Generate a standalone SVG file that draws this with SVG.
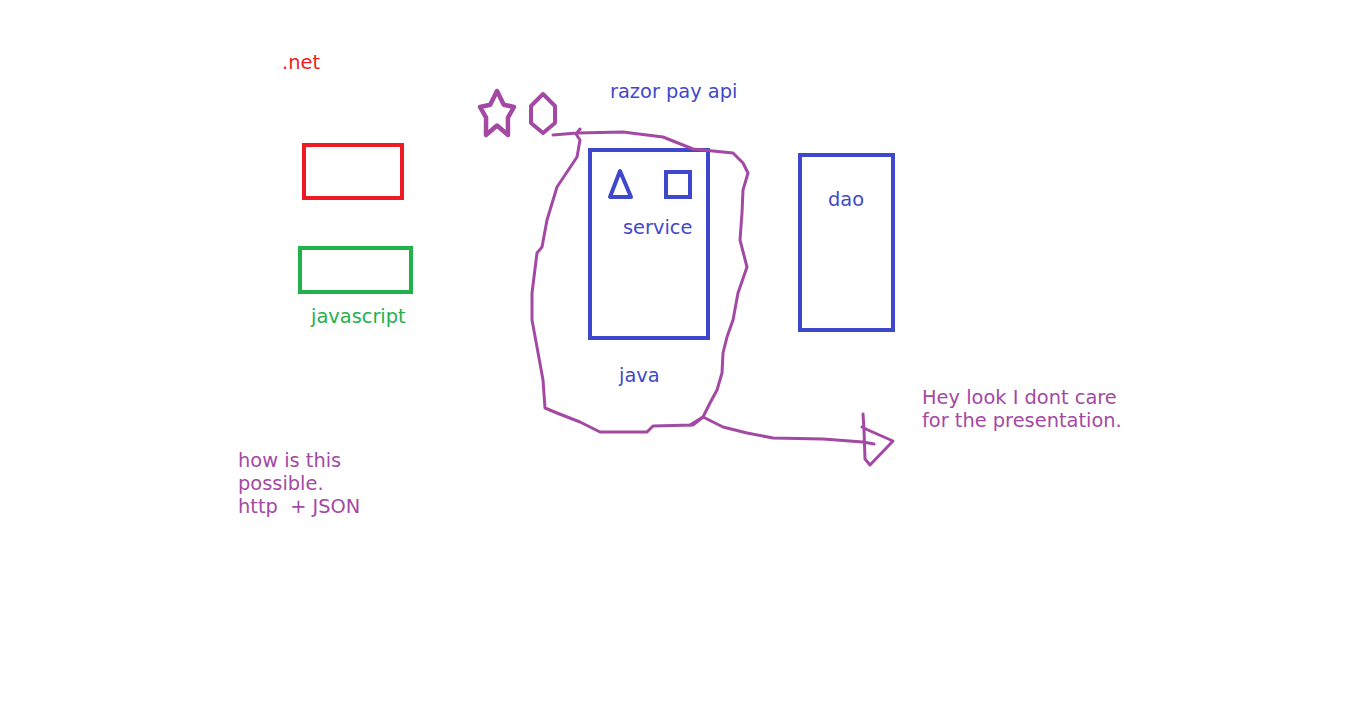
<svg xmlns="http://www.w3.org/2000/svg" width="1360" height="715" viewBox="0 0 1360 715">
<style>
text{font-family:"DejaVu Sans","Verdana",sans-serif;font-size:19.4px}
.pu{fill:#a349a4}.bl{fill:#3f48cc}.rd{fill:#ed1c24}.gr{fill:#22b14c}
.box{fill:none;stroke-width:4}
.ink{fill:none;stroke:#a349a4;stroke-width:3;stroke-linecap:round;stroke-linejoin:round}
</style>
<rect width="1360" height="715" fill="#fff"/>
<g id="net-label"><text x="282" y="69" class="rd">.net</text></g>
<g id="net-box"><rect x="304" y="145" width="98" height="53" class="box" stroke="#ed1c24"/></g>
<g id="js-box"><rect x="300" y="248" width="111" height="44" class="box" stroke="#22b14c"/><text x="311" y="323" class="gr">javascript</text></g>
<g id="star"><polygon points="497,91 503.8,104.7 514,107 507.9,117.6 508,135 497,125.5 486,135 486.1,117.6 480,107 490.2,104.7" fill="none" stroke="#a349a4" stroke-width="4.5" stroke-linejoin="round"/></g>
<g id="hexagon"><polygon points="543,94 555,106 555,123 543,133 531,123 531,106" fill="none" stroke="#a349a4" stroke-width="4" stroke-linejoin="round"/></g>
<g id="razor-label"><text x="610" y="98" class="bl">razor pay api</text></g>
<g id="service"><rect x="590" y="150" width="118" height="188" class="box" stroke="#3f48cc"/>
<polygon points="620,171 610,197 631,197" fill="none" stroke="#3f48cc" stroke-width="4" stroke-linejoin="round"/>
<rect x="666" y="172" width="24" height="25" class="box" stroke="#3f48cc"/>
<text x="623" y="234" class="bl">service</text></g>
<g id="dao"><rect x="800" y="155" width="93" height="175" class="box" stroke="#3f48cc"/><text x="828" y="206" class="bl">dao</text></g>
<g id="java-label"><text x="619" y="382" class="bl">java</text></g>
<g id="connectors">
<path class="ink" d="M553,135 L577,133 L623,132 L663,137 L693,149 L733,153 L743,163 L748,173 L743,190 L742,213 L740,240 L747,267 L738,293 L733,320 L727,337 L723,353 L722,373 L717,390 L710,403 L703,417 L693,425 L653,426 L647,432 L600,432 L580,422 L557,413 L545,408 L543,380 L537,347 L532,320 L532,293 L537,253 L542,247 L547,220 L557,187 L577,157 L580,140 L576,134 L580,129"/>
<path class="ink" d="M690,425 L703,417 L723,427 L747,433 L773,438 L823,439 L863,442 L874,444"/>
<path class="ink" d="M863,414 L864,430 L865,459 L870,465 L893,441 L868,430 L862,427"/>
</g>
<g id="note-presentation"><text x="922" y="404" class="pu">Hey look I dont care</text><text x="922" y="427" class="pu">for the presentation.</text></g>
<g id="note-http"><text x="238" y="467" class="pu">how is this</text><text x="238" y="490" class="pu">possible.</text><text x="238" y="513" class="pu" xml:space="preserve">http  + JSON</text></g>
</svg>
